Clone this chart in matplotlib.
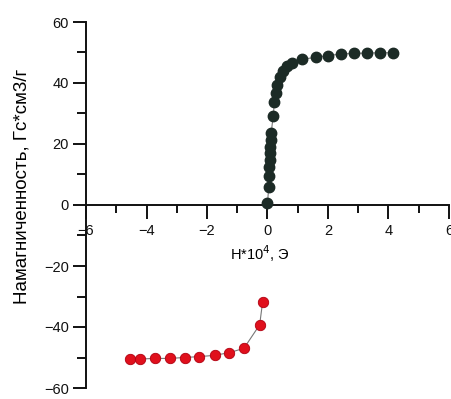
import matplotlib
matplotlib.use("Agg")
import matplotlib.pyplot as plt
from matplotlib.ticker import MultipleLocator

plt.rcParams['font.family'] = ['Liberation Sans', 'DejaVu Sans']

# Positive branch (black)
h_pos = [0.0, 0.04, 0.05, 0.06, 0.07, 0.08, 0.09, 0.10, 0.12, 0.19, 0.23, 0.27,
         0.32, 0.40, 0.52, 0.65, 0.80, 1.15, 1.59, 2.00, 2.42, 2.86, 3.28, 3.71, 4.14]
m_pos = [0.5, 6.0, 9.6, 12.6, 14.8, 17.0, 19.1, 21.3, 23.5, 29.3, 33.9, 36.6,
         39.3, 41.9, 44.0, 45.6, 46.7, 47.8, 48.4, 49.0, 49.5, 49.7, 49.8, 49.9, 49.9]

# Negative branch (red)
h_neg = [-4.54, -4.23, -3.71, -3.23, -2.74, -2.25, -1.75, -1.26, -0.78, -0.26, -0.16]
m_neg = [-50.6, -50.5, -50.3, -50.3, -50.0, -49.7, -49.3, -48.4, -47.0, -39.3, -31.7]

x_ticks = [-6, -4, -2, 0, 2, 4, 6]
y_ticks = [-60, -40, -20, 0, 20, 40, 60]

fig = plt.figure(figsize=(4.52, 3.99), dpi=100)
ax = fig.add_axes([86/452, 1-388/399, (449-86)/452, (388-22)/399])

ax.plot(h_pos, m_pos, '-', color='#777777', lw=0.8, zorder=2)
ax.plot(h_pos, m_pos, 'o', color='#1c2b26', ms=7.5, mec='#1c2b26', zorder=3, clip_on=False)
ax.plot(h_neg, m_neg, '-', color='#777777', lw=0.8, zorder=2)
ax.plot(h_neg, m_neg, 'o', color='#e0101c', ms=7.5, mec='#b00010', mew=0.6, zorder=3)

ax.set_xlim(-6, 6)
ax.set_ylim(-60, 60)
ax.spines['top'].set_visible(False)
ax.spines['right'].set_visible(False)
ax.spines['bottom'].set_position(('data', 0))
for s in ('left', 'bottom'):
    ax.spines[s].set_linewidth(1.4)
    ax.spines[s].set_color('#111111')

ax.set_xticks(x_ticks)
ax.set_yticks(y_ticks)
ax.xaxis.set_minor_locator(MultipleLocator(1))
ax.yaxis.set_minor_locator(MultipleLocator(10))
ax.tick_params(axis='x', which='major', direction='out', length=10, width=1.4, labelsize=10.5, pad=4, colors='#111111')
ax.tick_params(axis='x', which='minor', direction='out', length=6, width=1.4, colors='#111111')
ax.tick_params(axis='y', which='major', direction='out', length=9.5, width=1.4, labelsize=10.5, pad=3, colors='#111111')
ax.tick_params(axis='y', which='minor', direction='out', length=6.5, width=1.4, colors='#111111')

ax.set_xlabel('H*10$^4$, Э', fontsize=10.5)
ax.xaxis.set_label_coords(0.479, 0.396)
ax.set_ylabel('Намагниченность, Гс*см3/г', fontsize=13.5)
ax.yaxis.set_label_coords(-0.154, 0.552)

fig.savefig('out.png', dpi=100)
